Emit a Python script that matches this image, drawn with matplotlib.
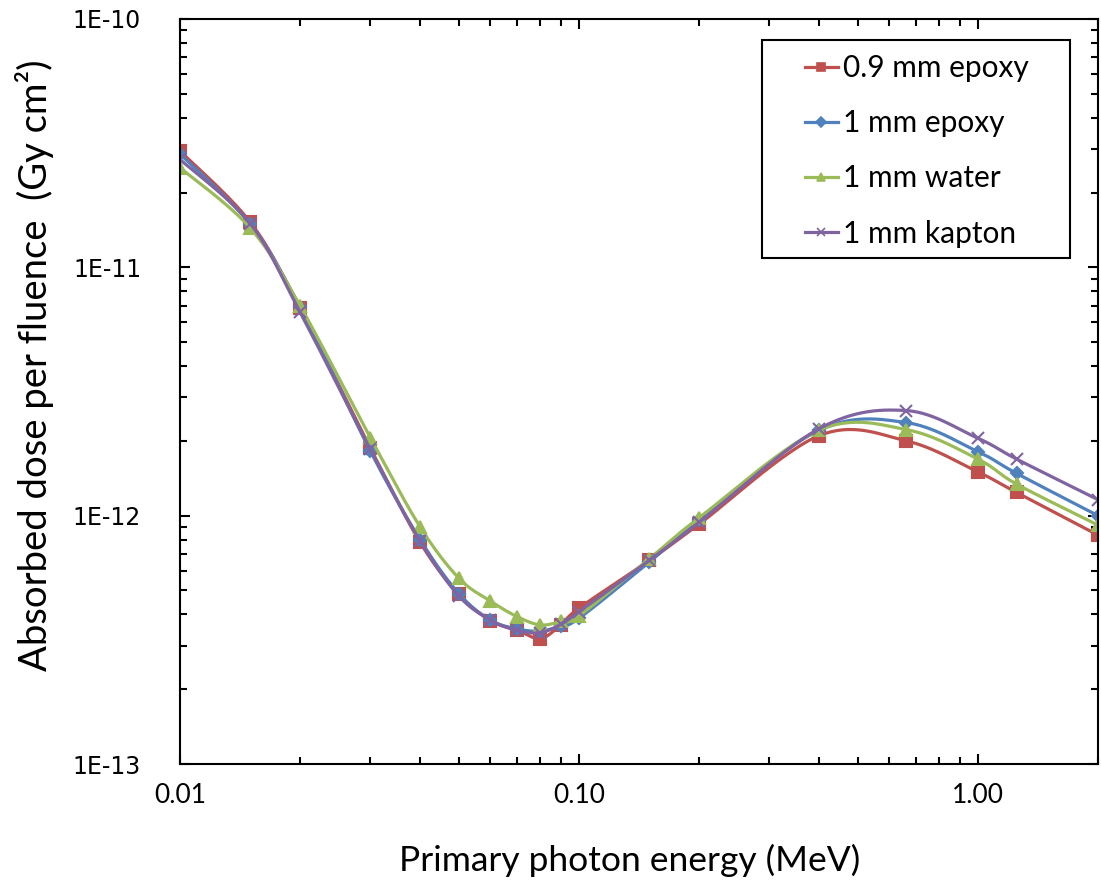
import numpy as np
import matplotlib
matplotlib.use("Agg")
import matplotlib.pyplot as plt
from matplotlib.patches import Rectangle
from matplotlib.ticker import FixedLocator, FuncFormatter, LogLocator, NullFormatter

# photon energies (MeV)
energy = [0.01, 0.015, 0.02, 0.03, 0.04, 0.05, 0.06, 0.07, 0.08, 0.09,
          0.1, 0.15, 0.2, 0.4, 0.662, 1.0, 1.25, 2.0]

# absorbed dose per fluence (Gy cm^2)
epoxy_09 = [2.94e-11, 1.52e-11, 6.85e-12, 1.87e-12, 7.8e-13, 4.83e-13, 3.78e-13, 3.46e-13,
            3.2e-13, 3.63e-13, 4.24e-13, 6.6e-13, 9.24e-13, 2.1e-12, 2.0e-12, 1.5e-12,
            1.24e-12, 8.35e-13]
epoxy_1 = [2.86e-11, 1.49e-11, 6.9e-12, 1.82e-12, 8.0e-13, 4.85e-13, 3.8e-13, 3.5e-13,
           3.43e-13, 3.6e-13, 3.86e-13, 6.5e-13, 9.6e-13, 2.21e-12, 2.37e-12, 1.81e-12,
           1.48e-12, 1.0e-12]
water_1 = [2.52e-11, 1.44e-11, 7.0e-12, 2.06e-12, 9.0e-13, 5.6e-13, 4.53e-13, 3.92e-13,
           3.63e-13, 3.75e-13, 3.95e-13, 6.7e-13, 9.8e-13, 2.21e-12, 2.22e-12, 1.69e-12,
           1.34e-12, 9.16e-13]
kapton_1 = [2.72e-11, 1.5e-11, 6.6e-12, 1.85e-12, 7.9e-13, 4.75e-13, 3.8e-13, 3.45e-13,
            3.38e-13, 3.65e-13, 4.1e-13, 6.6e-13, 9.4e-13, 2.24e-12, 2.65e-12, 2.05e-12,
            1.69e-12, 1.16e-12]

labels = ["0.9 mm epoxy", "1 mm epoxy", "1 mm water", "1 mm kapton"]
series = [epoxy_09, epoxy_1, water_1, kapton_1]
colors = ["#C0504D", "#4F81BD", "#9BBB59", "#8064A2"]
markers = ["s", "D", "^", "x"]
msizes = [8.5, 6.5, 8.5, 8.5]

x_ticks = [0.01, 0.1, 1.0]
y_ticks = [1e-13, 1e-12, 1e-11, 1e-10]

W, H = 1101, 885


def smooth(xs, ys, n=30):
    # Excel-like smoothed line: Catmull-Rom Bezier in log-log space
    lx = np.log10(xs)
    ly = np.log10(ys)
    px = np.concatenate([[lx[0]], lx, [lx[-1]]])
    py = np.concatenate([[ly[0]], ly, [ly[-1]]])
    t = np.linspace(0, 1, n)[:, None]
    outx, outy = [], []
    for i in range(1, len(px) - 2):
        p0 = np.array([px[i], py[i]])
        p3 = np.array([px[i + 1], py[i + 1]])
        c1 = p0 + (np.array([px[i + 1], py[i + 1]]) - np.array([px[i - 1], py[i - 1]])) / 6
        c2 = p3 - (np.array([px[i + 2], py[i + 2]]) - np.array([px[i], py[i]])) / 6
        pts = ((1 - t) ** 3) * p0 + 3 * ((1 - t) ** 2) * t * c1 + 3 * (1 - t) * t ** 2 * c2 + t ** 3 * p3
        outx.append(pts[:, 0])
        outy.append(pts[:, 1])
    return 10 ** np.concatenate(outx), 10 ** np.concatenate(outy)


plt.rcParams['font.family'] = ['Lato', 'DejaVu Sans']

fig = plt.figure(figsize=(W / 100, H / 100), dpi=100)
ax = fig.add_axes([180 / W, 1 - 764 / H, 918 / W, 745 / H])

for ys, lab, c, m, ms in zip(series, labels, colors, markers, msizes):
    sx, sy = smooth(energy, ys)
    ax.plot(sx, sy, color=c, lw=2.3, solid_capstyle='round')
    ax.plot(energy, ys, ls='none', marker=m, color=c, ms=ms, mew=1.5)
    ax.plot([], [], color=c, lw=2.3, marker=m, ms=ms * 0.75, mew=1.2, label=lab)

ax.set_xscale('log')
ax.set_yscale('log')
ax.set_xlim(0.01, 2.0)
ax.set_ylim(1e-13, 1e-10)

ax.xaxis.set_major_locator(FixedLocator(x_ticks))
ax.xaxis.set_major_formatter(FuncFormatter(lambda v, p: f"{v:.2f}"))
ax.yaxis.set_major_locator(FixedLocator(y_ticks))
ax.yaxis.set_major_formatter(FuncFormatter(lambda v, p: f"1E-{int(round(-np.log10(v)))}"))
for a in (ax.xaxis, ax.yaxis):
    a.set_minor_locator(LogLocator(base=10, subs=np.arange(2, 10)))
    a.set_minor_formatter(NullFormatter())

ax.tick_params(which='both', direction='in', top=True, right=True, width=1.5, colors='black')
ax.tick_params(which='major', length=7)
ax.tick_params(which='minor', length=5)
ax.tick_params(axis='x', labelsize=19, pad=14)
ax.tick_params(axis='y', pad=28)
for lbl in ax.get_yticklabels():
    lbl.set_fontfamily('DejaVu Sans')
    lbl.set_fontsize(17)
for s in ax.spines.values():
    s.set_linewidth(1.5)

fig.text(630 / W, 1 - 860 / H, "Primary photon energy (MeV)", fontsize=25.5,
         ha='center', va='center')
fig.text(35 / W, 1 - 365 / H, "Absorbed dose per fluence  (Gy cm²)", fontsize=27.5,
         rotation=90, ha='center', va='center')

# legend box drawn separately, entries placed inside it
fig.add_artist(Rectangle((762 / W, 1 - 258 / H), (1070 - 762) / W, (258 - 40) / H,
                         transform=fig.transFigure, facecolor='white', edgecolor='black',
                         lw=1.5, zorder=3))
leg = fig.legend(*ax.get_legend_handles_labels(), loc='upper left',
                 bbox_to_anchor=(805 / W, 1 - 54 / H), borderaxespad=0, borderpad=0,
                 fontsize=21.5, frameon=False, handlelength=1.1, handletextpad=0.17,
                 labelspacing=0.91)
leg.set_zorder(4)

fig.savefig("out.png", dpi=100)
